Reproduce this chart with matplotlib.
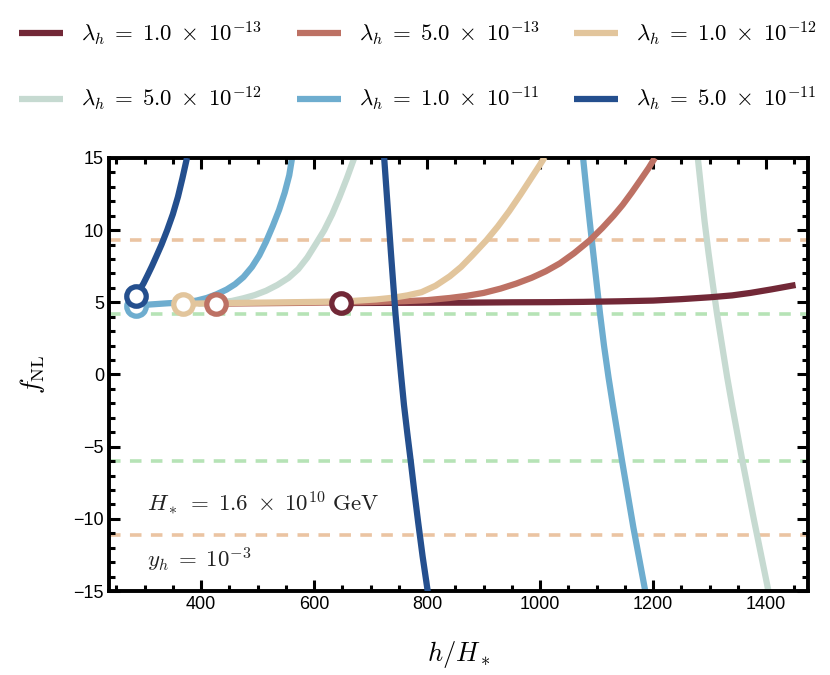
import numpy as np
import matplotlib
matplotlib.use("Agg")
import matplotlib.pyplot as plt
from matplotlib.lines import Line2D

plt.rcParams['mathtext.fontset'] = 'cm'
plt.rcParams['font.family'] = ['Liberation Sans', 'DejaVu Sans']

# legend labels and colours, one per lambda_h
labels = [r'$\lambda_h \;=\; 1.0 \;\times\; 10^{-13}$', r'$\lambda_h \;=\; 5.0 \;\times\; 10^{-13}$',
          r'$\lambda_h \;=\; 1.0 \;\times\; 10^{-12}$', r'$\lambda_h \;=\; 5.0 \;\times\; 10^{-12}$',
          r'$\lambda_h \;=\; 1.0 \;\times\; 10^{-11}$', r'$\lambda_h \;=\; 5.0 \;\times\; 10^{-11}$']
colors = ['#722837', '#bd7164', '#e2c59c', '#c6dad1', '#6eadcf', '#244f8e']

# rising branches (h/H_*, f_NL)
rise_h_1e13 = [648, 720, 800, 880, 950, 1020, 1076, 1140, 1200, 1250, 1301, 1340, 1372, 1410, 1452]
rise_f_1e13 = [4.95, 4.96, 4.97, 4.98, 5.0, 5.01, 5.03, 5.07, 5.12, 5.22, 5.35, 5.48, 5.65, 5.9, 6.2]
rise_h_5e13 = [427, 500, 600, 700, 760, 800, 840, 870, 900, 930, 958, 985, 1010, 1035, 1060,
               1088, 1110, 1130, 1146, 1162, 1178, 1192, 1203]
rise_f_5e13 = [4.9, 4.93, 4.97, 5.02, 5.08, 5.15, 5.3, 5.45, 5.65, 5.95, 6.3, 6.7, 7.15, 7.7, 8.4,
               9.3, 10.15, 11.0, 11.75, 12.6, 13.5, 14.3, 15.0]
rise_h_1e12 = [368, 450, 550, 620, 670, 710, 740, 765, 790, 815, 840, 860, 880, 905, 925, 945,
               965, 985, 1000, 1008]
rise_f_1e12 = [4.9, 4.95, 5.0, 5.04, 5.1, 5.2, 5.32, 5.48, 5.7, 6.15, 6.8, 7.45, 8.25, 9.3, 10.25, 11.3,
               12.45, 13.65, 14.55, 15.05]
rise_h_5e12 = [395, 430, 455, 475, 495, 515, 535, 555, 572, 588, 604, 618, 632, 645, 658, 671]
rise_f_5e12 = [4.9, 4.97, 5.1, 5.28, 5.5, 5.8, 6.2, 6.7, 7.3, 8.1, 9.1, 10.0, 11.1, 12.3, 13.6, 15.0]
rise_h_1e11 = [285, 310, 340, 370, 392, 410, 427, 445, 460, 475, 490, 503, 515, 527, 538, 548, 556, 561]
rise_f_1e11 = [4.75, 4.85, 4.93, 5.0, 5.12, 5.3, 5.55, 5.88, 6.25, 6.75, 7.45, 8.25, 9.2, 10.3, 11.4, 12.6,
               13.8, 15.0]
rise_h_5e11 = [285, 291, 298, 305, 313, 321, 330, 340, 350, 359, 367, 375]
rise_f_5e11 = [5.45, 5.85, 6.3, 6.85, 7.5, 8.2, 9.0, 10.0, 11.1, 12.3, 13.6, 15.0]

# falling branches, only three of them come back inside the window
fall_h_5e12 = [1279, 1285, 1291, 1298, 1305, 1313, 1322, 1331, 1340, 1349, 1358, 1368, 1378, 1391, 1404]
fall_f_5e12 = [15.0, 12.8, 10.6, 8.4, 6.4, 4.2, 2.0, -0.2, -2.2, -4.1, -6.0, -8.0, -10.0, -12.5, -15.0]
fall_h_1e11 = [1076, 1082, 1088, 1094, 1100, 1106, 1113, 1121, 1129, 1137, 1145, 1155, 1165, 1176, 1186]
fall_f_1e11 = [15.0, 12.7, 10.5, 8.4, 6.3, 4.2, 2.0, -0.2, -2.2, -4.1, -6.0, -8.3, -10.6, -12.9, -15.0]
fall_h_5e11 = [724, 728, 732, 736, 740, 744, 749, 754, 759, 765, 771, 777, 784, 792, 801]
fall_f_5e11 = [15.0, 12.8, 10.6, 8.4, 6.3, 4.2, 2.0, -0.1, -2.1, -4.1, -6.0, -8.0, -10.2, -12.6, -15.0]

rise_h = [rise_h_1e13, rise_h_5e13, rise_h_1e12, rise_h_5e12, rise_h_1e11, rise_h_5e11]
rise_f = [rise_f_1e13, rise_f_5e13, rise_f_1e12, rise_f_5e12, rise_f_1e11, rise_f_5e11]
fall_h = [None, None, None, fall_h_5e12, fall_h_1e11, fall_h_5e11]
fall_f = [None, None, None, fall_f_5e12, fall_f_1e11, fall_f_5e11]
has_circle = [True, True, True, False, True, True]

# observational bounds (dashed)
bounds_orange = [9.3, -11.1]
bounds_green = [4.2, -6.0]

zorders = [3, 4, 5, 2, 2.5, 6]

fig = plt.figure(figsize=(8.3, 6.75), dpi=100)
ax = fig.add_axes([0.1313, 0.1244, 0.8422, 0.6416])

for y in bounds_orange:
    ax.axhline(y, color='#ebc4a2', lw=2.6, ls=(0, (3.2, 2.6)), zorder=1)
for y in bounds_green:
    ax.axhline(y, color='#b6e3b6', lw=2.6, ls=(0, (3.2, 2.6)), zorder=1)

for i in range(len(labels)):
    ax.plot(rise_h[i], rise_f[i], color=colors[i], lw=4.5, solid_capstyle='butt',
            solid_joinstyle='round', zorder=zorders[i])
    if fall_h[i] is not None:
        z = 7 if i == 5 else zorders[i]
        ax.plot(fall_h[i], fall_f[i], color=colors[i], lw=4.5, solid_joinstyle='round', zorder=z)
    if has_circle[i]:
        ax.plot(rise_h[i][0], rise_f[i][0], 'o', ms=14, mfc='white', mec=colors[i], mew=3.8,
                zorder=zorders[i] + 5)

ax.set_xlim(237, 1474)
ax.set_ylim(-15, 15)
ax.set_xticks([400, 600, 800, 1000, 1200, 1400])
ax.set_xticks(np.arange(250, 1474, 50), minor=True)
ax.set_yticks([-15, -10, -5, 0, 5, 10, 15])
ax.set_yticks(np.arange(-15, 16, 1), minor=True)
ax.tick_params(which='both', direction='in', top=True, right=True, labelsize=13, width=2.2)
ax.tick_params(which='major', length=8)
ax.tick_params(which='minor', length=4.5)
for s in ax.spines.values():
    s.set_linewidth(2.8)

ax.set_xlabel(r'$h/H_*$', fontsize=19, labelpad=19)
ax.set_ylabel(r'$f_{\rm NL}$', fontsize=19, labelpad=19)

ax.text(0.054, 0.203, r'$H_* \;=\; 1.6 \;\times\; 10^{10}\ \mathrm{GeV}$', transform=ax.transAxes,
        fontsize=16.5, va='center', color='#222222')
ax.text(0.054, 0.072, r'$y_h \;=\; 10^{-3}$', transform=ax.transAxes,
        fontsize=16.5, va='center', color='#222222')

# matplotlib fills legend columns first, reorder so rows read left to right
order = [0, 3, 1, 4, 2, 5]
handles = [Line2D([], [], color=colors[i], lw=4.5, solid_capstyle='butt') for i in order]
fig.legend(handles, [labels[i] for i in order], ncol=3, loc='upper left',
           bbox_to_anchor=(0.0, 1.0), frameon=False, fontsize=16.5, handlelength=1.92,
           handletextpad=0.78, columnspacing=1.5, labelspacing=1.62, borderaxespad=0.45)

fig.savefig('out.png', dpi=100)
